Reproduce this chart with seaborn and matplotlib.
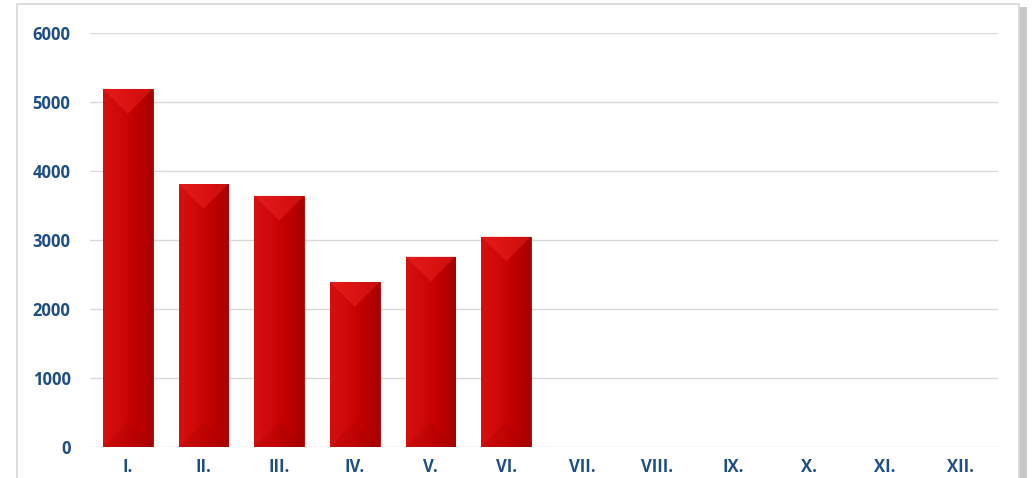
import matplotlib
matplotlib.use('Agg')
import matplotlib.pyplot as plt
import matplotlib.patches as mpatches
import seaborn as sns
import numpy as np
import pandas as pd

#----------------------------------------------------
l_month=['I.', 'II.', 'III.', 'IV.', 'V.', 'VI.', 'VII.', 'VIII.', 'IX.', 'X.', 'XI.', 'XII.']
l_val=[5190, 3810, 3640, 2390, 2760, 3050, 0, 0, 0, 0, 0, 0]
l_ytick=[0, 1000, 2000, 3000, 4000, 5000, 6000]
c_lab='#1F4E85'

df=pd.DataFrame({'month': l_month, 'val': l_val})

#----------------------------------------------------
sns.set_style('white')
plt.rcParams['font.family']=['Open Sans', 'DejaVu Sans']

fig=plt.figure(figsize=(10.33, 4.78), dpi=100)
W, H=1033, 478
ax=fig.add_axes([90/W, (H-447)/H, (998-90)/W, 414/H])

#frame with shadow
shadow=mpatches.Rectangle((21/W, -0.1), (1006)/W, (H-7)/H+0.1, transform=fig.transFigure,
	facecolor='#c8c8c8', edgecolor='none', zorder=-3)
frame=mpatches.Rectangle((17/W, -0.1), (1002)/W, (H-4)/H+0.1, transform=fig.transFigure,
	facecolor='white', edgecolor='#d8d8d8', lw=1.2, zorder=-2)
fig.patches.extend([shadow, frame])
ax.patch.set_alpha(0)

sns.barplot(data=df, x='month', y='val', color='#cc0000', width=0.66, saturation=1,
	edgecolor='#b00000', linewidth=0.6, ax=ax, zorder=3)

#gradient / bevel look on each bar
grad=np.linspace(0, 1, 64)
cm=matplotlib.colors.LinearSegmentedColormap.from_list('r', ['#d41010', '#cf0808', '#c00000', '#a80000'])
for p in ax.patches:
	h=p.get_height()
	if h<=0:
		continue
	x0=p.get_x(); w=p.get_width()
	im=ax.imshow(grad[None, :], extent=(x0, x0+w, 0, h), aspect='auto', cmap=cm, zorder=3.5)
	im.set_clip_path(p)
	#top bevel
	bev=min(h, 360)
	tri=mpatches.Polygon([(x0, h), (x0+w, h), (x0+w/2, h-bev)], closed=True,
		facecolor='#ff3030', alpha=0.35, edgecolor='none', zorder=4)
	ax.add_patch(tri)
	#bottom bevel
	tri2=mpatches.Polygon([(x0, 0), (x0+w, 0), (x0+w/2, min(h, 360))], closed=True,
		facecolor='#900000', alpha=0.18, edgecolor='none', zorder=4)
	ax.add_patch(tri2)

#adjust
ax.set_xlim(-0.5, 11.5)
ax.set_ylim(0, 6000)
ax.set_yticks(l_ytick)
ax.grid(axis='y', color='#d9d9d9', lw=1, zorder=0)
ax.set_axisbelow(True)
for s in ax.spines.values():
	s.set_visible(False)
ax.tick_params(axis='both', length=0, labelsize=12, labelcolor=c_lab)
ax.tick_params(axis='y', pad=14)
ax.tick_params(axis='x', pad=8)
for t in ax.get_xticklabels()+ax.get_yticklabels():
	t.set_fontweight('bold')
ax.set_xlabel('')
ax.set_ylabel('')

plt.savefig('out.png', dpi=100)
plt.close()
